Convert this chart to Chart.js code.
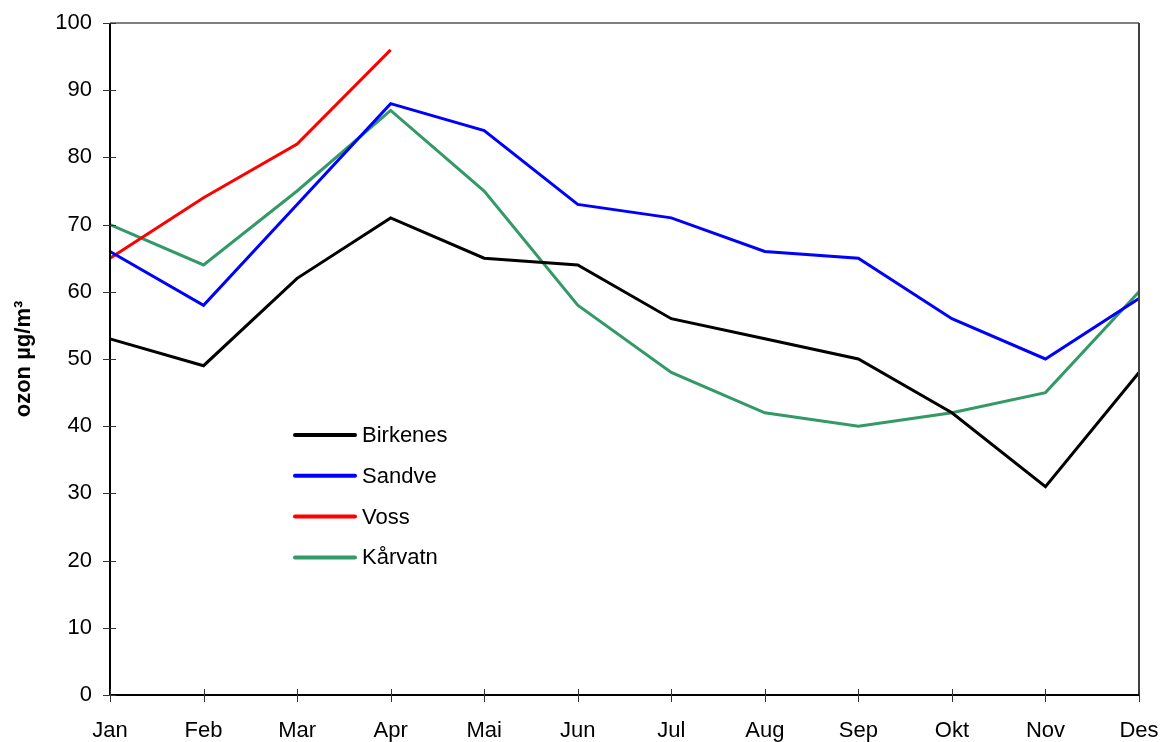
<!DOCTYPE html>
<html>
<head>
<meta charset="utf-8">
<script src="https://cdn.jsdelivr.net/npm/chart.js@4/dist/chart.umd.min.js"></script>
<style>
html,body{margin:0;padding:0;background:#fff;}
#wrap{width:1164px;height:742px;position:relative;}
</style>
</head>
<body>
<div id="wrap"><canvas id="c" width="1164" height="742"></canvas></div>
<script>
const months = ['Jan','Feb','Mar','Apr','Mai','Jun','Jul','Aug','Sep','Okt','Nov','Des'];
const birkenes = [53,49,62,71,65,64,56,53,50,42,31,48];
const sandve   = [66,58,73,88,84,73,71,66,65,56,50,59];
const voss     = [65,74,82,96,null,null,null,null,null,null,null,null];
const karvatn  = [70,64,75,87,75,58,48,42,40,42,45,60];
const yTicks = [0,10,20,30,40,50,60,70,80,90,100];
const yTitle = 'ozon µg/m³';

const FONT = 'Liberation Sans, Arial, sans-serif';

const decor = {
  id:'decor',
  afterDraw(chart){
    const ctx = chart.ctx, a = chart.chartArea;
    const xs = chart.scales.x, ys = chart.scales.y;
    ctx.save();
    ctx.lineWidth = 2;
    ctx.strokeStyle = '#808080';
    ctx.beginPath(); ctx.moveTo(a.left, a.top); ctx.lineTo(a.right, a.top); ctx.stroke();
    ctx.strokeStyle = '#404040';
    ctx.beginPath(); ctx.moveTo(a.right, a.top); ctx.lineTo(a.right, a.bottom); ctx.stroke();
    ctx.strokeStyle = '#000';
    ctx.beginPath(); ctx.moveTo(a.left, a.top); ctx.lineTo(a.left, a.bottom); ctx.stroke();
    ctx.beginPath(); ctx.moveTo(a.left, a.bottom); ctx.lineTo(a.right, a.bottom); ctx.stroke();
    ctx.lineWidth = 1;
    ctx.strokeStyle = '#333';
    ys.ticks.forEach((t,i)=>{
      const y = Math.round(ys.getPixelForTick(i))+0.5;
      ctx.beginPath(); ctx.moveTo(a.left-7, y); ctx.lineTo(a.left+6, y); ctx.stroke();
    });
    xs.ticks.forEach((t,i)=>{
      const x = Math.round(xs.getPixelForTick(i))+0.5;
      ctx.beginPath(); ctx.moveTo(x, a.bottom-6); ctx.lineTo(x, a.bottom+7); ctx.stroke();
    });
    const lx = 295, ly = 435, gap = 40.8;
    ctx.font = '22px ' + FONT;
    ctx.textBaseline = 'middle';
    ctx.textAlign = 'left';
    chart.data.datasets.forEach((ds,i)=>{
      const y = ly + i*gap;
      ctx.strokeStyle = ds.borderColor;
      ctx.lineWidth = 4;
      ctx.lineCap = 'round';
      ctx.beginPath(); ctx.moveTo(lx, y); ctx.lineTo(lx+60, y); ctx.stroke();
      ctx.fillStyle = '#000';
      ctx.fillText(ds.label, lx+67, y+1);
    });
    ctx.restore();
  }
};

new Chart(document.getElementById('c'), {
  type:'line',
  data:{
    labels: months,
    datasets:[
      {label:'Birkenes', data:birkenes, borderColor:'#000000'},
      {label:'Sandve', data:sandve, borderColor:'#0000FF'},
      {label:'Voss', data:voss, borderColor:'#FF0000'},
      {label:'Kårvatn', data:karvatn, borderColor:'#339966'}
    ].map(d=>Object.assign(d,{borderWidth:3, pointRadius:0, tension:0, fill:false, spanGaps:false}))
  },
  options:{
    responsive:false,
    animation:false,
    events:[],
    layout:{padding:{top:23, right:25, left:0, bottom:0}},
    plugins:{legend:{display:false}, tooltip:{enabled:false}},
    scales:{
      x:{
        offset:false,
        grid:{display:false},
        border:{display:false},
        ticks:{color:'#000', font:{family:FONT, size:22}, padding:15, maxRotation:0, autoSkip:false},
        afterFit(s){ s.height = 47; s.paddingLeft = 0; s.paddingRight = 0; }
      },
      y:{
        min:0, max:100,
        grid:{display:false},
        border:{display:false},
        afterBuildTicks(s){ s.ticks = yTicks.map(v=>({value:v})); },
        ticks:{color:'#000', font:{family:FONT, size:22}, padding:10},
        title:{display:true, text:yTitle, color:'#000', font:{family:FONT, size:22, weight:'bold'}, padding:{top:11,bottom:0}},
        afterFit(s){ s.width = 110; s.paddingTop = 0; s.paddingBottom = 0; }
      }
    }
  },
  plugins:[decor]
});
</script>
</body>
</html>
